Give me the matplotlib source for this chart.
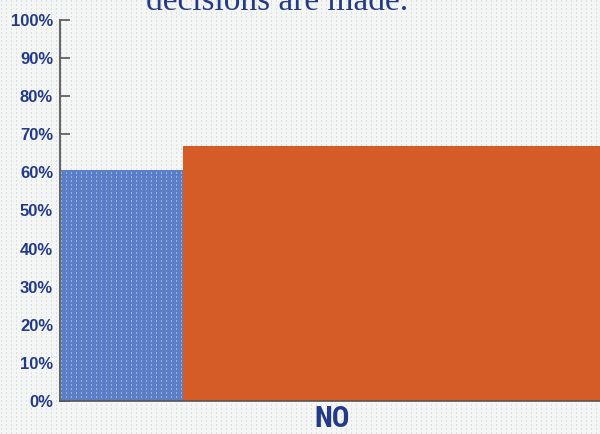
import matplotlib
matplotlib.use("Agg")
import matplotlib.pyplot as plt
import numpy as np

# chart data
categories = ['NO']
blue_values = [60.6]
orange_values = [66.8]
y_ticks = [0, 10, 20, 30, 40, 50, 60, 70, 80, 90, 100]
y_tick_labels = [f"{v}%" for v in y_ticks]
title_text = "decisions are made."

BLUE = '#5b7fc6'
ORANGE = '#d55c27'
NAVY = '#23398a'
BG = '#f4f5f5'


def dot_texture(h, w, dot_rgba, step_x=5, step_y=4):
    """ Build an RGBA array with small vertical dashes on a grid """
    tex = np.zeros((h, w, 4))
    for r in range(0, h, step_y):
        for c in range(1, w, step_x):
            tex[r:r + 2, c] = dot_rgba
    return tex


W, H = 600, 434
fig = plt.figure(figsize=(W / 100, H / 100), dpi=100, facecolor=BG)

# dotted paper background, kept below the axes
bg = fig.figimage(dot_texture(H, W, (0.87, 0.88, 0.88, 1.0)), xo=0, yo=0)
bg.set_zorder(-5)

ax = fig.add_axes([60 / W, 33 / H, 540 / W, 381 / H])
ax.set_zorder(1)
ax.set_facecolor('none')

unit = 123.0
ax.set_xlim(0, 540 / unit)
ax.set_ylim(0, 100)

# blue bar sits left of the category, orange bar runs off to the right
blue_bars = ax.bar([0], blue_values, width=1, align='edge', color=BLUE, zorder=2)
ax.bar([1], orange_values, width=4, align='edge', color=ORANGE, zorder=2)

# white dot pattern inside the blue bar
img = ax.imshow(dot_texture(381, 540, (1, 1, 1, 0.4), step_x=5, step_y=4),
                extent=[0, 1, 0, 1], transform=ax.transAxes, aspect='auto',
                interpolation='nearest', zorder=3)
img.set_clip_path(blue_bars[0])

ax.set_yticks(y_ticks)
ax.set_yticklabels(y_tick_labels, fontfamily='Liberation Sans', fontweight='bold',
                   fontsize=12, color=NAVY)
ax.set_xticks([(332 - 60) / unit])
ax.set_xticklabels(categories,
                   family=['Roboto Condensed', 'Liberation Sans Narrow', 'DejaVu Sans'],
                   fontweight='bold', fontsize=21, color=NAVY)

ax.tick_params(axis='y', direction='in', length=7, width=1.2, color='#555555', pad=5)
ax.tick_params(axis='x', direction='in', length=5, width=1, color='#555555', pad=3)

for side in ['top', 'right']:
    ax.spines[side].set_visible(False)
ax.spines['left'].set_color('#666666')
ax.spines['left'].set_linewidth(1.5)
ax.spines['bottom'].set_color('#555555')
ax.spines['bottom'].set_linewidth(1.2)
ax.spines['bottom'].set_zorder(4)

fig.text(0.462, 1 - 10 / H, title_text, ha='center', va='baseline',
         fontfamily='Liberation Serif', fontsize=24, color=NAVY)

fig.savefig('out.png', dpi=100, facecolor=BG)
